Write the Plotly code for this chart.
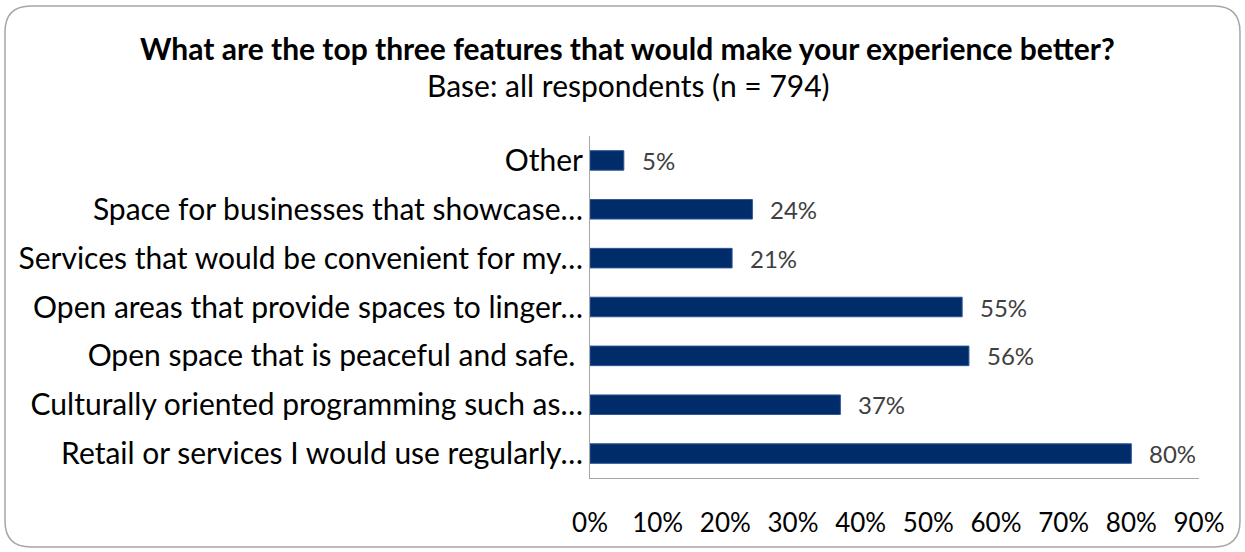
import plotly.graph_objects as go

categories = [
    "Retail or services I would use regularly…",
    "Culturally oriented programming such as…",
    "Open space that is peaceful and safe. ",
    "Open areas that provide spaces to linger…",
    "Services that would be convenient for my…",
    "Space for businesses that showcase…",
    "Other",
]
values = [0.80, 0.37, 0.56, 0.55, 0.21, 0.24, 0.05]
tick_vals = [0, 0.1, 0.2, 0.3, 0.4, 0.5, 0.6, 0.7, 0.8, 0.9]
title_text = "What are the top three features that would make your experience better?"
subtitle_text = "Base: all respondents (n = 794)"

W, H = 1245, 552
ML, MR, MT, MB = 590, 46, 136, 74
FONT = "Lato, 'Open Sans', sans-serif"

fig = go.Figure()
fig.add_trace(go.Bar(
    x=values, y=categories, orientation="h",
    marker=dict(color="#002D6A", line=dict(color="#2F5597", width=1)),
    width=0.4, hoverinfo="skip",
))

for v, c in zip(values, categories):
    fig.add_annotation(x=v, y=c, xref="x", yref="y", text=f"{round(v*100)}%",
                       showarrow=False, xanchor="left", xshift=16,
                       font=dict(family=FONT, size=24, color="#404040"))

# rounded border around the whole chart (pixel -> paper coordinates)
pw, ph = W - ML - MR, H - MT - MB
def px(x):
    return (x - ML) / pw
def py(y):
    return (H - MB - y) / ph
x0, y0, x1, y1, r = 5, 6, 1240, 547, 26
path = (f"M {px(x0 + r)},{py(y0)} L {px(x1 - r)},{py(y0)} "
        f"Q {px(x1)},{py(y0)} {px(x1)},{py(y0 + r)} L {px(x1)},{py(y1 - r)} "
        f"Q {px(x1)},{py(y1)} {px(x1 - r)},{py(y1)} L {px(x0 + r)},{py(y1)} "
        f"Q {px(x0)},{py(y1)} {px(x0)},{py(y1 - r)} L {px(x0)},{py(y0 + r)} "
        f"Q {px(x0)},{py(y0)} {px(x0 + r)},{py(y0)} Z")
fig.add_shape(type="path", path=path, xref="paper", yref="paper",
              line=dict(color="#A6A6A6", width=1.5), layer="below")

fig.add_annotation(x=px(627), y=py(48), xref="paper", yref="paper", text=f"<b>{title_text}</b>",
                   showarrow=False, xanchor="center", yanchor="middle",
                   font=dict(family=FONT, size=30, color="#000000"))
fig.add_annotation(x=px(628), y=py(85), xref="paper", yref="paper", text=subtitle_text,
                   showarrow=False, xanchor="center", yanchor="middle",
                   font=dict(family=FONT, size=30, color="#000000"))

fig.update_layout(
    width=W, height=H,
    margin=dict(l=ML, r=MR, t=MT, b=MB, pad=0),
    paper_bgcolor="white", plot_bgcolor="white",
    showlegend=False, bargap=0.6,
    font=dict(family=FONT, color="#000000"),
    xaxis=dict(range=[0, 0.9], tickvals=tick_vals, tickformat=".0%",
               showgrid=False, zeroline=False, showline=True, linecolor="#A6A6A6", linewidth=1,
               ticks="outside", ticklen=0, ticklabelstandoff=22,
               tickfont=dict(family=FONT, size=26, color="#000000"), fixedrange=True),
    yaxis=dict(showgrid=False, zeroline=False, showline=True, linecolor="#A6A6A6", linewidth=1,
               ticks="", ticklabelstandoff=0,
               tickfont=dict(family=FONT, size=30, color="#000000"), fixedrange=True),
)

fig.write_html("out.html")
